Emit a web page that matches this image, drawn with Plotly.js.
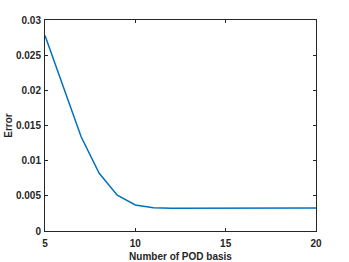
<!DOCTYPE html>
<html><head><meta charset="utf-8">
<script src="https://cdn.plot.ly/plotly-3.0.1.min.js"></script>
<style>html,body{margin:0;padding:0;background:#fff}</style>
</head><body><div id="chart" style="width:349px;height:262px"></div>
<script>
const basisCount = [5,6,7,8,9,10,11,12,13,14,15,16,17,18,19,20];
const errorValues = [0.0278,0.0205,0.0134,0.0082,0.0051,0.0037,0.0033,0.00322,0.00322,0.00323,0.00324,0.00325,0.00326,0.00327,0.00327,0.00328];
const xTicks = [5,10,15,20];
const yTicks = [0,0.005,0.01,0.015,0.02,0.025,0.03];
const yTickText = ['0','0.005','0.01','0.015','0.02','0.025','0.03'];

const font = {family:'Liberation Sans, Arial, sans-serif', size:10, color:'#262626'};
Plotly.newPlot('chart',[{
  x: basisCount, y: errorValues, type:'scatter', mode:'lines',
  line:{color:'#0072BD', width:1.5}
}],{
  width:349, height:262,
  margin:{l:45,r:33,t:20,b:31},
  paper_bgcolor:'#fff', plot_bgcolor:'#fff',
  showlegend:false,
  font: font,
  xaxis:{range:[5,20], tickvals:xTicks, ticks:'inside', ticklen:3, tickcolor:'#262626',
    showline:true, linecolor:'#262626', linewidth:1, mirror:'ticks', showgrid:false, zeroline:false,
    ticklabelstandoff:3,
    tickfont:{family:font.family, size:10, color:'#262626', weight:'bold'},
    title:{text:'Number of POD basis', font:{family:font.family, size:10, color:'#262626', weight:'bold'}, standoff:4}},
  yaxis:{range:[0,0.03], tickvals:yTicks, ticktext:yTickText, ticks:'inside', ticklen:3, tickcolor:'#262626',
    showline:true, linecolor:'#262626', linewidth:1, mirror:'ticks', showgrid:false, zeroline:false,
    ticklabelstandoff:1,
    tickfont:{family:font.family, size:10, color:'#262626', weight:'bold'},
    title:{text:'Error', font:{family:font.family, size:10, color:'#262626', weight:'bold'}, standoff:1}}
},{displayModeBar:false, staticPlot:true});
</script></body></html>
